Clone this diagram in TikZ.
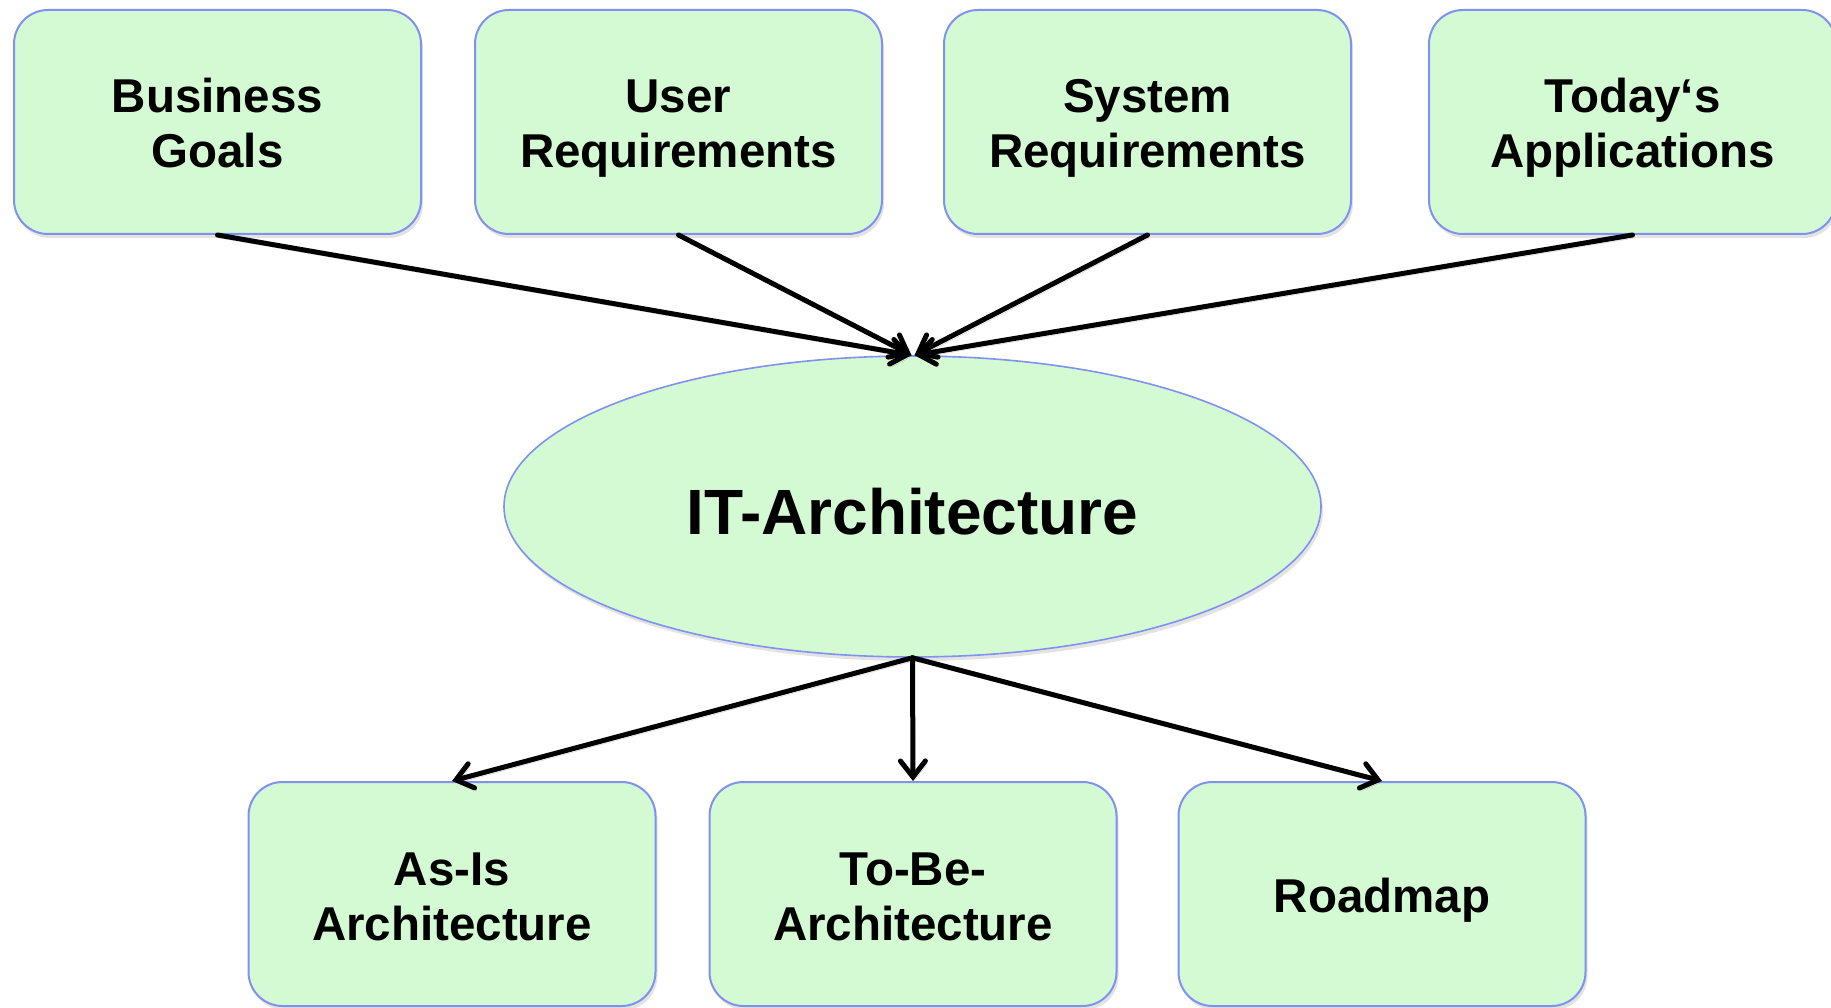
\documentclass[tikz,border=0pt]{standalone}
\usepackage{fontspec}
\setmainfont{Liberation Sans}
\usetikzlibrary{arrows.meta,shadows,shapes.geometric}
\definecolor{boxfill}{RGB}{212,250,212}
\definecolor{boxline}{RGB}{128,145,240}
% card label: centred rows, 55pt apart, with a fixed top strut
\newcommand\cardtext[1]{\begin{tabular}{@{}c@{}}\rule{0pt}{53.5pt}#1\end{tabular}}
\tikzset{
  card/.style={draw=boxline, line width=2pt, fill=boxfill, rounded corners=34pt,
    minimum width=407pt, minimum height=224pt, inner sep=0pt,
    font=\fontsize{47.5}{55}\selectfont\bfseries,
    drop shadow={opacity=0.22, shadow xshift=2pt, shadow yshift=-4pt}},
  hub/.style={ellipse, draw=boxline, line width=1.6pt, fill=boxfill,
    minimum width=817pt, minimum height=301pt, inner sep=0pt,
    text height=68pt, text depth=12pt,
    font=\fontsize{64}{70}\selectfont\bfseries,
    drop shadow={opacity=0.22, shadow xshift=2pt, shadow yshift=-4pt}},
  link/.style={line width=5pt, line cap=round,
    -{Straight Barb[length=16pt,width=25pt,line cap=round]},
    preaction={draw=black, opacity=0.18, transform canvas={xshift=2pt,yshift=-3pt}}},
}
\begin{document}
\begin{tikzpicture}[x=1pt,y=1pt]
  \useasboundingbox (0,0) rectangle (1831,-1008);
  \fill[white] (0,0) rectangle (1831,-1008);

  % inputs
  \node[card] (goals) at (217.5,-122) {\cardtext{Business\\Goals}};
  \node[card] (user)  at (678.5,-122) {\cardtext{User\\Requirements}};
  \node[card] (sys)   at (1147.5,-122) {\cardtext{System\\Requirements}};
  \node[card] (apps)  at (1632.5,-122) {\cardtext{Today‘s\\Applications}};

  % central architecture
  \node[hub] (arch) at (912.5,-506.5) {IT-Architecture};

  % outputs
  \node[card] (asis)  at (452,-894) {\cardtext{As-Is\\Architecture}};
  \node[card] (tobe)  at (913,-894) {\cardtext{To-Be-\\Architecture}};
  \node[card] (road)  at (1382,-894) {\cardtext{Roadmap}};

  % connectors
  \draw[link] (goals.south) -- ([xshift=-1pt]arch.north);
  \draw[link] (user.south)  -- ([xshift=-1pt]arch.north);
  \draw[link] (sys.south)   -- ([xshift=2pt]arch.north);
  \draw[link] (apps.south)  -- ([xshift=2pt]arch.north);

  \draw[link] (arch.south) -- (asis.north);
  \draw[link] (arch.south) -- (tobe.north);
  \draw[link] (arch.south) -- (road.north);
\end{tikzpicture}
\end{document}
